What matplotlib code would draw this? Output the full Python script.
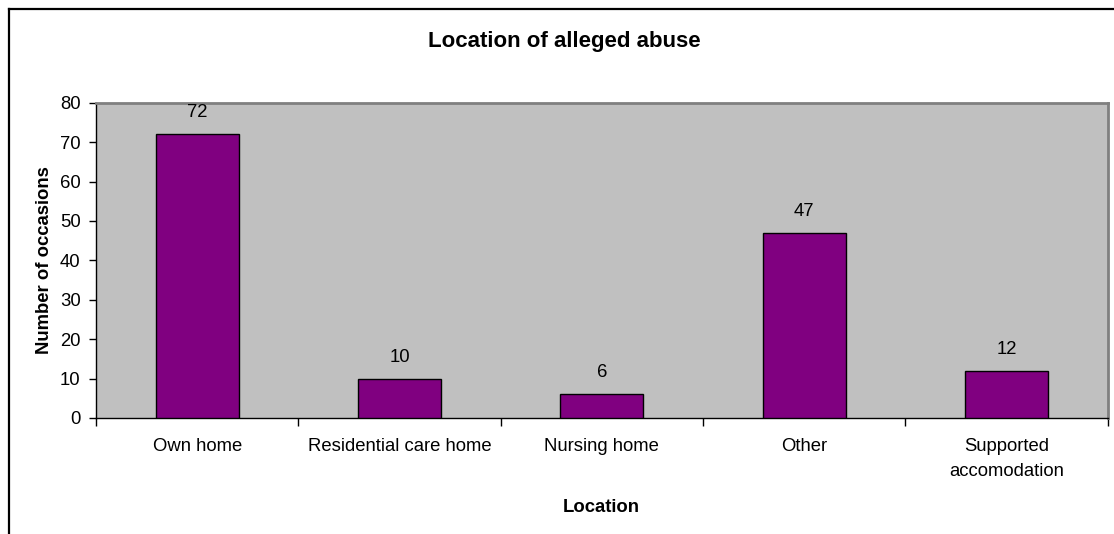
import matplotlib
matplotlib.use("Agg")
import matplotlib.pyplot as plt
from matplotlib.lines import Line2D
import numpy as np

plt.rcParams['font.family'] = ['Liberation Sans', 'DejaVu Sans']

categories = ["Own home", "Residential care home", "Nursing home", "Other",
              "Supported\naccomodation"]
occasions = [72, 10, 6, 47, 12]
y_ticks = [0, 10, 20, 30, 40, 50, 60, 70, 80]

W, H = 1114, 534
fig = plt.figure(figsize=(W / 100, H / 100), dpi=100)
fig.patch.set_facecolor("white")

# Outer chart border (only its left and top edges fall inside the canvas)
fig.add_artist(Line2D([9 / W, 9 / W], [0, 1 - 9 / H], transform=fig.transFigure,
                      color="black", lw=1.6))
fig.add_artist(Line2D([9 / W, 1], [1 - 9 / H, 1 - 9 / H], transform=fig.transFigure,
                      color="black", lw=1.6))

ax = fig.add_axes([96 / W, 116 / H, (1107.5 - 96) / W, (418 - 102.7) / H])
ax.set_facecolor("#C0C0C0")

x = np.arange(len(categories))
bars = ax.bar(x, occasions, width=0.41, color="#800080", edgecolor="black",
              linewidth=1.0, zorder=3)

for xi, v in zip(x, occasions):
    ax.annotate(str(v), (xi, v), xytext=(0, 15.5), textcoords="offset points",
                ha="center", va="center", fontsize=13.3, color="black")

ax.set_xlim(-0.5, len(categories) - 0.5)
ax.set_ylim(0, 80)
ax.set_yticks(y_ticks)
ax.tick_params(axis="y", direction="out", length=5, width=1, labelsize=13.3, pad=6)

ax.set_xticks(x)
ax.set_xticklabels(categories, fontsize=13.3, linespacing=1.6)
ax.tick_params(axis="x", which="major", length=0, pad=14.5)
ax.set_xticks(np.arange(-0.5, len(categories), 1.0), minor=True)
ax.tick_params(axis="x", which="minor", direction="out", length=6, width=1)

for side in ("top", "right"):
    ax.spines[side].set_color("#808080")
    ax.spines[side].set_linewidth(2)
for side in ("bottom", "left"):
    ax.spines[side].set_color("black")
    ax.spines[side].set_linewidth(1)

ax.set_ylabel("Number of occasions", fontsize=13.3, fontweight="bold", labelpad=5)
ax.set_xlabel("Location", fontsize=13.3, fontweight="bold", labelpad=13.5)

fig.text(564 / W, 1 - 41 / H, "Location of alleged abuse", ha="center", va="center",
         fontsize=16, fontweight="bold")

fig.savefig("out.png", dpi=100)
